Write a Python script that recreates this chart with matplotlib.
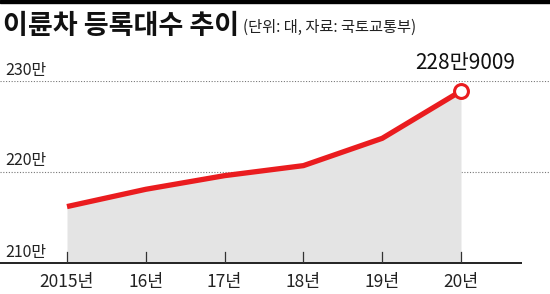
import matplotlib
matplotlib.use("Agg")
import matplotlib.pyplot as plt
import matplotlib.transforms as mtransforms

plt.rcParams['font.family'] = ['Noto Sans CJK KR', 'DejaVu Sans']

# data (unit: 만 대)
years = [2015, 2016, 2017, 2018, 2019, 2020]
year_labels = ['2015년', '16년', '17년', '18년', '19년', '20년']
registrations = [216.2, 218.1, 219.6, 220.7, 223.7, 228.9]
y_ticks = [210, 220, 230]
y_tick_labels = ['210만', '220만', '230만']
last_label = '228만9009'

title = '이륜차 등록대수 추이'
subtitle = '(단위: 대, 자료: 국토교통부)'

red = '#ea1c1f'
fill_grey = '#e4e4e4'

W, H = 550, 294
fig = plt.figure(figsize=(W / 100, H / 100), dpi=100)

# axes spans full width; baseline at y=263px, 230만 grid at y=81px
ax = fig.add_axes([0, (H - 263) / H, 1, (263 - 81) / H])
px_per_year = (461 - 67) / 5
ax.set_xlim(2015 - 67 / px_per_year, 2015 + (W - 67) / px_per_year)
ax.set_ylim(210, 230)
ax.axis('off')

# dotted grid lines
for v in y_ticks[1:]:
    ax.axhline(v, color='#777777', lw=0.8, ls=(0, (1, 1.5)), zorder=1)

# fill + line
ax.fill_between(years, 210, registrations, color=fill_grey, lw=0, zorder=2)
ax.plot(years, registrations, color=red, lw=3.8, solid_capstyle='butt', zorder=3)
ax.plot(years[-1], registrations[-1], 'o', ms=10, mfc='white', mec=red, mew=2.2, zorder=4)

# baseline and ticks
x_end = 2015 + (522 - 67) / px_per_year
ax.plot([ax.get_xlim()[0], x_end], [210, 210], color='#222222', lw=1.4, zorder=5,
        solid_capstyle='butt', clip_on=False)
tick_h = 11 / (182 / 20)
for x in years:
    ax.plot([x, x], [210, 210 + tick_h], color='#333333', lw=0.9, zorder=5)

# x labels
for x, lab in zip(years, year_labels):
    ax.text(x, 210, lab, ha='center', va='center', fontsize=12.5, color='#222222',
            transform=mtransforms.offset_copy(ax.transData, fig=fig, x=0, y=-19, units='dots'),
            clip_on=False)

# y labels above grid lines
trans = mtransforms.blended_transform_factory(fig.transFigure, ax.transData)
for v, lab in zip(y_ticks, y_tick_labels):
    ax.text(5 / W, v, lab, ha='left', va='center', fontsize=11.5, color='#222222',
            transform=mtransforms.offset_copy(trans, fig=fig, x=0, y=11, units='dots'),
            clip_on=False)

# last value label
ax.text(years[-1], registrations[-1], last_label, ha='center', va='center', fontsize=15,
        color='#111111',
        transform=mtransforms.offset_copy(ax.transData, fig=fig, x=4, y=28, units='dots'),
        clip_on=False)

# top bar and title
fig.patches.append(plt.Rectangle((0, 1 - 3 / H), 1, 3 / H, transform=fig.transFigure,
                                 color='black', zorder=10))
fig.text(3 / W, 1 - 26 / H, title, fontsize=19.5, fontweight='heavy', ha='left', va='center',
         color='#111111')
fig.text(243 / W, 1 - 27 / H, subtitle, fontsize=11, ha='left', va='center', color='#222222')

fig.savefig('out.png', dpi=100)
